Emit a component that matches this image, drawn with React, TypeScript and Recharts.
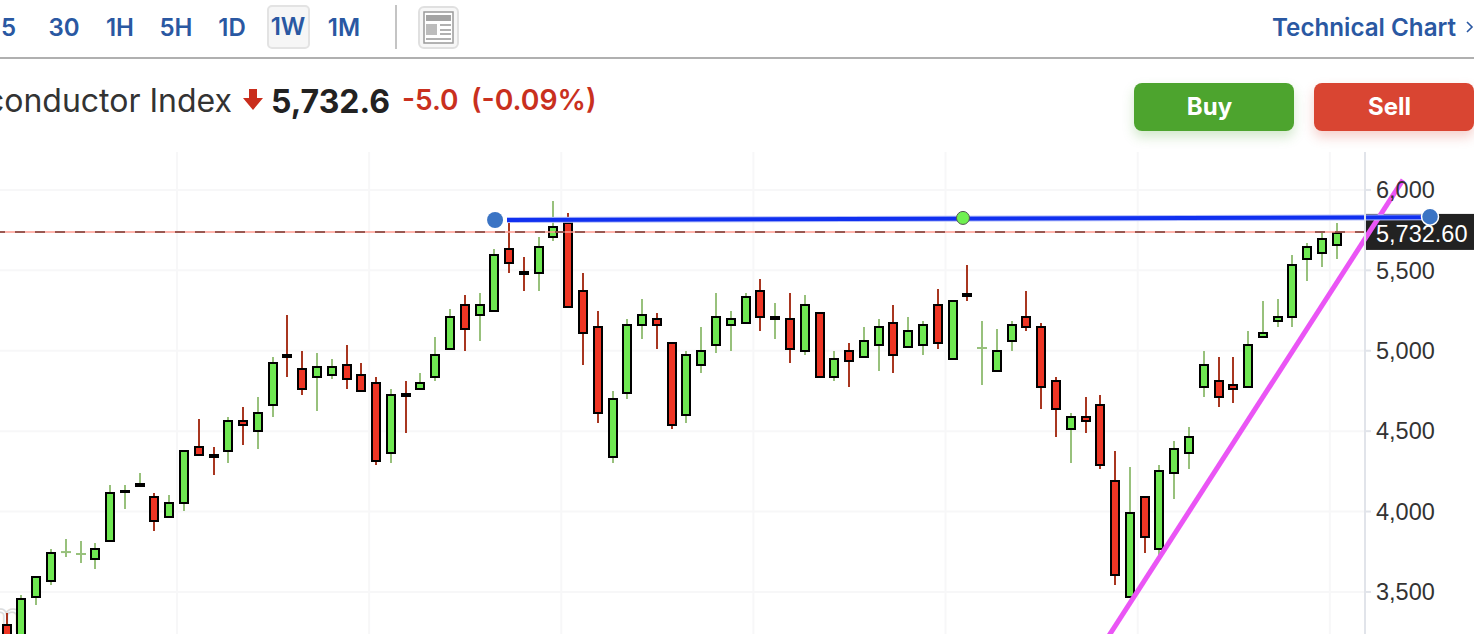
import { Bar, CartesianGrid, ComposedChart, ReferenceDot, ReferenceLine, XAxis, YAxis } from "recharts";

const TIMEFRAMES = ["30", "1H", "5H", "1D", "1W", "1M"];
const ACTIVE_TIMEFRAME = "1W";
const LAST_PRICE_LABEL = "5,732.60";
const PRICE_LINE_LEVEL = 5739; // where the dashed line sits on the axis in the picture
const PRICE_TICKS = [3500, 4000, 4500, 5000, 5500, 6000];
const QUARTER_TICKS = [11.5, 24.5, 37.5, 50.5, 63.5, 76.5, 89.5];

const OPENS = [
    3300, 3170, 3462, 3562, 3748, 3736, 3699, 3811, 4122, 4161, 4097, 3960, 4047, 4408, 4358, 4370, 4569, 4495, 4656, 4980,
    4893, 4831, 4843, 4918, 4856, 4806, 4358, 4729, 4756, 4831, 5005, 5291, 5216, 5241, 5639, 5488, 5478, 5701, 5801, 5378,
    5154, 4333, 4731, 5154, 5204, 5055, 4594, 4905, 5030, 5154, 5167, 5378, 5191, 5204, 4992, 5241, 4831, 5005, 4955, 5030,
    5179, 5017, 5030, 5291, 4943, 5351, 5017, 4868, 5055, 5216, 5154, 4818, 4507, 4594, 4669, 4196, 3462, 4097, 3761, 4234,
    4358, 4768, 4818, 4793, 4768, 5079, 5179, 5204, 5565, 5602, 5652,
];
const HIGHS = [
    3369, 3481, 3599, 3767, 3829, 3817, 3804, 4165, 4165, 4240, 4115, 4103, 4383, 4576, 4401, 4588, 4650, 4712, 4961, 5222,
    4999, 4986, 4949, 5036, 4924, 4837, 4762, 4812, 4862, 5086, 5260, 5347, 5359, 5633, 5795, 5583, 5708, 5932, 5857, 5484,
    5247, 4750, 5198, 5322, 5235, 5055, 4999, 5148, 5359, 5247, 5359, 5446, 5297, 5359, 5347, 5241, 4999, 5048, 5148, 5198,
    5285, 5210, 5185, 5384, 5316, 5534, 5185, 5135, 5185, 5372, 5173, 4837, 4613, 4712, 4725, 4377, 4277, 4097, 4289, 4439,
    4526, 4999, 4961, 4961, 5123, 5310, 5322, 5596, 5670, 5733, 5795,
];
const LOWS = [
    3170, 3140, 3419, 3543, 3717, 3680, 3643, 3811, 4016, 4161, 3879, 3960, 4003, 4345, 4227, 4302, 4414, 4389, 4588, 4837,
    4725, 4625, 4824, 4762, 4744, 4289, 4302, 4489, 4756, 4812, 5005, 4999, 5061, 5241, 5484, 5372, 5372, 5683, 5266, 4911,
    4551, 4302, 4700, 5073, 5011, 4513, 4551, 4862, 4986, 4999, 5167, 5123, 5073, 4924, 4974, 4831, 4812, 4775, 4955, 4874,
    4862, 5017, 4974, 5011, 4943, 5310, 4787, 4868, 4999, 5123, 4638, 4464, 4302, 4489, 4265, 3543, 3462, 3742, 3723, 4078,
    4265, 4712, 4650, 4675, 4768, 5079, 5148, 5148, 5434, 5521, 5571,
];
const CLOSES = [
    3201, 3462, 3599, 3748, 3748, 3736, 3773, 4122, 4130, 4169, 3935, 4059, 4383, 4345, 4333, 4569, 4532, 4619, 4930, 4955,
    4756, 4905, 4905, 4818, 4744, 4308, 4731, 4721, 4806, 4980, 5216, 5129, 5291, 5602, 5540, 5480, 5652, 5776, 5266, 5104,
    4607, 4706, 5167, 5229, 5154, 4532, 4980, 5005, 5216, 5204, 5341, 5204, 5216, 5005, 5291, 4831, 4955, 4930, 5067, 5154,
    4967, 5129, 5167, 5042, 5316, 5343, 5017, 5005, 5167, 5142, 4768, 4632, 4594, 4557, 4283, 3599, 3997, 3835, 4258, 4395,
    4470, 4918, 4706, 4756, 5042, 5117, 5216, 5540, 5652, 5701, 5739,
];

const candles = OPENS.map((open, i) => ({
    week: i,
    open,
    high: HIGHS[i],
    low: LOWS[i],
    close: CLOSES[i],
}));

// drawn trend lines, in week index / price
const RESISTANCE_LINE = [
    { x: 33.83, y: 5813 },
    { x: 96.28, y: 5830 },
];
const SUPPORT_LINE = [
    { x: 74.28, y: 3189 },
    { x: 94.45, y: 6062 },
];

const GREEN = "#6FE852";
const RED = "#EE3524";
const GREEN_WICK = "#98C17C";
const RED_WICK = "#A83620";
const BLUE_TEXT = "#2A58A2";
const GRID = "#f7f7f8";

function Candle(props: any) {
    const { x, y, width, height, payload } = props;
    const cx = Math.round(x + width / 2);
    const perUnit = height / (payload.high - payload.low);
    const topValue = Math.max(payload.open, payload.close);
    const bottomValue = Math.min(payload.open, payload.close);
    const up = payload.close >= payload.open;
    const bodyTop = y + (payload.high - topValue) * perUnit;
    const bodyHeight = (topValue - bottomValue) * perUnit;

    if (payload.open === payload.close) {
        return (
            <g>
                <line x1={cx} x2={cx} y1={y} y2={y + height} stroke={GREEN_WICK} strokeWidth={2} />
                <line x1={cx - 5} x2={cx + 5} y1={bodyTop} y2={bodyTop} stroke={GREEN_WICK} strokeWidth={2} />
            </g>
        );
    }
    const inset = bodyHeight > 4 ? 1 : 0;
    // snap to whole pixels so the black outline stays crisp
    const rectTop = Math.round(bodyTop + inset);
    const rectBottom = Math.round(bodyTop + bodyHeight - inset);
    return (
        <g>
            <line x1={cx} x2={cx} y1={y} y2={y + height} stroke={up ? GREEN_WICK : RED_WICK} strokeWidth={2} />
            <rect
                x={cx - 4}
                y={rectTop}
                width={8}
                height={Math.max(rectBottom - rectTop, 1)}
                fill={up ? GREEN : RED}
                stroke="#000"
                strokeWidth={2}
            />
        </g>
    );
}

function PriceLabel(props: any) {
    const y = props.viewBox.y;
    return (
        <g>
            <rect x={1364} y={y - 18} width={110} height={36} fill="#222" />
            <text x={1376} y={y + 10} fill="#fff" fontSize={23.5} fontFamily="Liberation Sans">
                {LAST_PRICE_LABEL}
            </text>
        </g>
    );
}

function Toolbar() {
    return (
        <div style={{ position: "absolute", left: -20, top: 6, display: "flex", height: 42, alignItems: "center", fontSize: 24, fontWeight: 600, color: BLUE_TEXT }}>
            <span style={{ width: 36, marginRight: 20, textAlign: "right" }}>15</span>
            {TIMEFRAMES.map((t) => (
                <span key={t} style={{ width: 56, display: "flex", justifyContent: "center" }}>
                    <span
                        style={
                            t === ACTIVE_TIMEFRAME
                                ? { width: 39, height: 40, lineHeight: "40px", textAlign: "center", background: "#f6f6f6", border: "2px solid #e3e3e3", borderRadius: 5 }
                                : {}
                        }
                    >
                        {t}
                    </span>
                </span>
            ))}
        </div>
    );
}

function LayoutIcon() {
    return (
        <svg style={{ position: "absolute", left: 418, top: 6 }} width={42} height={43}>
            <rect x={1} y={1} width={39} height={41} rx={5} fill="#f7f7f7" stroke="#e0e0e0" strokeWidth={2} />
            <rect x={6} y={6} width={29} height={31} fill="#fff" stroke="#9a9a9a" strokeWidth={1.5} />
            <rect x={8} y={9} width={25} height={6} fill="#a4a4a4" />
            <rect x={8} y={18} width={11} height={11} fill="#bcbcbc" />
            <rect x={22} y={18} width={11} height={2} fill="#b0b0b0" />
            <rect x={22} y={23} width={11} height={2} fill="#b0b0b0" />
            <rect x={22} y={27} width={11} height={2} fill="#b0b0b0" />
            <rect x={8} y={32} width={25} height={2} fill="#b0b0b0" />
        </svg>
    );
}

function TradeButton({ label, left, color, shadow }: { label: string; left: number; color: string; shadow: string }) {
    return (
        <div
            style={{
                position: "absolute",
                left,
                top: 83,
                width: 151,
                paddingRight: 9,
                height: 48,
                lineHeight: "48px",
                borderRadius: 8,
                background: color,
                boxShadow: `0 6px 12px ${shadow}`,
                color: "#fff",
                fontSize: 24,
                fontWeight: 700,
                textAlign: "center",
            }}
        >
            {label}
        </div>
    );
}

export default function App() {
    return (
        <div style={{ position: "fixed", left: 0, top: 0, width: 1474, height: 634, overflow: "hidden", background: "#fff", fontFamily: "Inter, sans-serif" }}>
            <Toolbar />
            <div style={{ position: "absolute", left: 395, top: 5, width: 2, height: 44, background: "#c4c4c4" }} />
            <LayoutIcon />
            <div style={{ position: "absolute", left: 1272, top: 13, fontSize: 24.2, fontWeight: 600, color: BLUE_TEXT, whiteSpace: "nowrap" }}>Technical Chart</div>
            <svg style={{ position: "absolute", left: 1466, top: 20 }} width={8} height={14}>
                <path d="M1 2 L6 7 L1 12" fill="none" stroke={BLUE_TEXT} strokeWidth={1.6} />
            </svg>
            <div style={{ position: "absolute", left: 0, top: 57, width: 1474, height: 2, background: "#b0b0b0" }} />

            <div style={{ position: "absolute", right: 1242, top: 81, fontSize: 32, color: "#333", whiteSpace: "nowrap" }}>Semiconductor Index</div>
            <svg style={{ position: "absolute", left: 243, top: 89 }} width={20} height={21}>
                <path d="M6 0 H14 V9 H20 L10 21 L0 9 H6 Z" fill="#C92D1C" />
            </svg>
            <div style={{ position: "absolute", left: 271, top: 82, fontSize: 32, fontWeight: 700, color: "#222" }}>5,732.6</div>
            <div style={{ position: "absolute", left: 402, top: 83, fontSize: 28, fontWeight: 600, color: "#C9301E" }}>-5.0</div>
            <div style={{ position: "absolute", left: 471, top: 83, fontSize: 28.3, fontWeight: 600, color: "#C9301E" }}>(-0.09%)</div>

            <TradeButton label="Buy" left={1134} color="#4DA42E" shadow="rgba(77,164,46,0.25)" />
            <TradeButton label="Sell" left={1314} color="#D94532" shadow="rgba(217,69,50,0.25)" />

            {/* faint watermark behind the first candles */}
            <div style={{ position: "absolute", left: -12, top: 592, fontSize: 40, color: "transparent", WebkitTextStroke: "1.5px #dcdcdc" }}>m</div>

            <div style={{ position: "absolute", left: 0, top: 152 }}>
                <ComposedChart width={1474} height={548} data={candles} margin={{ top: 0, right: 0, bottom: 0, left: 0 }}>
                    <CartesianGrid stroke={GRID} strokeWidth={2} vertical={false} syncWithTicks />
                    <XAxis
                        dataKey="week"
                        type="number"
                        domain={[-0.474, 91.88]}
                        allowDataOverflow
                        ticks={QUARTER_TICKS}
                        tick={false}
                        tickLine={false}
                        axisLine={false}
                        height={0}
                    />
                    <YAxis
                        orientation="right"
                        width={109}
                        domain={[2828, 6236]}
                        allowDataOverflow
                        ticks={PRICE_TICKS}
                        interval={0}
                        axisLine={{ stroke: "#e1e4ea", strokeWidth: 2 }}
                        tickLine={{ stroke: "#e1e4ea", strokeWidth: 2 }}
                        tickSize={6}
                        tickMargin={5}
                        tick={{ fill: "#333", fontSize: 23.5, fontFamily: "Liberation Sans" }}
                        tickFormatter={(v: number) => v.toLocaleString("en-US")}
                    />
                    {QUARTER_TICKS.map((t) => (
                        <ReferenceLine key={t} x={t} stroke={GRID} strokeWidth={2} />
                    ))}
                    <ReferenceLine y={PRICE_LINE_LEVEL} stroke="#FF9C92" strokeWidth={1.5} label={PriceLabel} />
                    <ReferenceLine y={PRICE_LINE_LEVEL} stroke="#7A3A34" strokeWidth={1.5} strokeDasharray="10 10" />
                    <Bar dataKey={(d: any) => [d.low, d.high]} barSize={10} shape={Candle} isAnimationActive={false} />
                    <ReferenceLine segment={SUPPORT_LINE} stroke="#EA55F5" strokeWidth={5} ifOverflow="visible" />
                    <ReferenceLine segment={RESISTANCE_LINE} stroke="#B4BEF8" strokeWidth={6} ifOverflow="visible" />
                    <ReferenceLine segment={RESISTANCE_LINE} stroke="#1030F0" strokeWidth={4} ifOverflow="visible" />
                    <ReferenceDot x={33.02} y={5813} r={8} fill="#3B74C4" stroke="none" ifOverflow="visible" />
                    <ReferenceDot x={64.68} y={5826} r={6.5} fill="#6FF050" stroke="#555" strokeWidth={1} ifOverflow="visible" />
                    <ReferenceDot x={96.28} y={5834} r={8.5} fill="#3B74C4" stroke="#fff" strokeWidth={1.5} ifOverflow="visible" />
                </ComposedChart>
            </div>
        </div>
    );
}
